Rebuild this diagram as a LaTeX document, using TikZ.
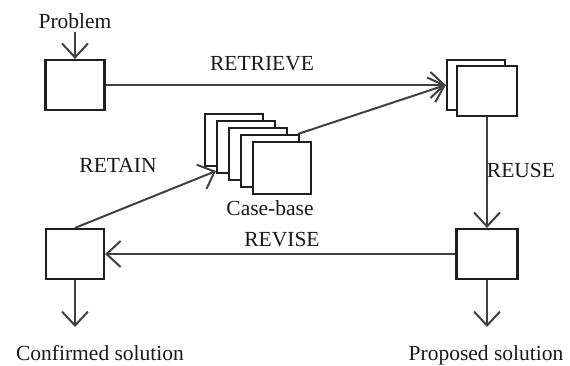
\documentclass[tikz,border=0pt]{standalone}
\usepackage{fontspec}
\setmainfont{Liberation Serif}
\usetikzlibrary{arrows.meta,calc,backgrounds}
\begin{document}
\begin{tikzpicture}[x=1pt,y=-1pt,
  box/.style={draw=black!88,line width=2.2pt,fill=white,minimum width=59pt,minimum height=50pt,inner sep=0pt},
  conn/.style={draw=black!75,line width=2pt,-{Straight Barb[length=14pt,width=26pt,line width=2pt]}},
  lbl/.style={font=\fontsize{21.5}{23}\selectfont,inner sep=0pt,text=black!90}]
\useasboundingbox (0,0) rectangle (570,365);
% boxes
\node[box] (prob) at (75,85) {};
\node[box,minimum width=58pt] (ret1) at (476,85) {};
\node[box,minimum width=60pt] (ret2) at (487,91) {};
\node[box,minimum width=61pt] (reuse) at (487,254) {};
\node[box,minimum width=58pt] (revise) at (75,254) {};
\foreach \i/\x/\y in {1/234/140,2/246/147,3/258/154,4/270/161,5/282/168}
  \node[box,minimum width=58pt,minimum height=52pt] (cb\i) at (\x,\y) {};
% texts
\node[lbl] (tprob) at (75,21) {Problem};
\node[lbl] (tretrieve) at (262,64) {RETRIEVE};
\node[lbl] (treuse) at (521,170) {REUSE};
\node[lbl] (trevise) at (282,240) {REVISE};
\node[lbl] (tretain) at (118,165) {RETAIN};
\node[lbl] (tcase) at (270,208) {Case-base};
\node[lbl] (tconf) at (100,353) {Confirmed solution};
\node[lbl] (tprop) at (486,355) {Proposed solution};
% coordinates
\coordinate (rt) at (216,171);
\coordinate (cbout) at ($(cb4.north east)+(-2,0)$);
\coordinate (confend) at (75,327);
\coordinate (propend) at (487,327);
% connectors
\begin{scope}[on background layer]
\draw[conn] ($(tprob.south)+(0,3)$) -- (prob.north);
\draw[conn] (prob.east) -- (ret1.west);
\draw[conn] (cbout) -- (ret1.west);
\draw[conn] (ret2.south) -- (reuse.north);
\draw[conn] (reuse.west) -- (revise.east);
\draw[conn] (revise.north) -- (rt);
\draw[conn] (revise.south) -- (confend);
\draw[conn] (reuse.south) -- (propend);
\end{scope}
\end{tikzpicture}
\end{document}
